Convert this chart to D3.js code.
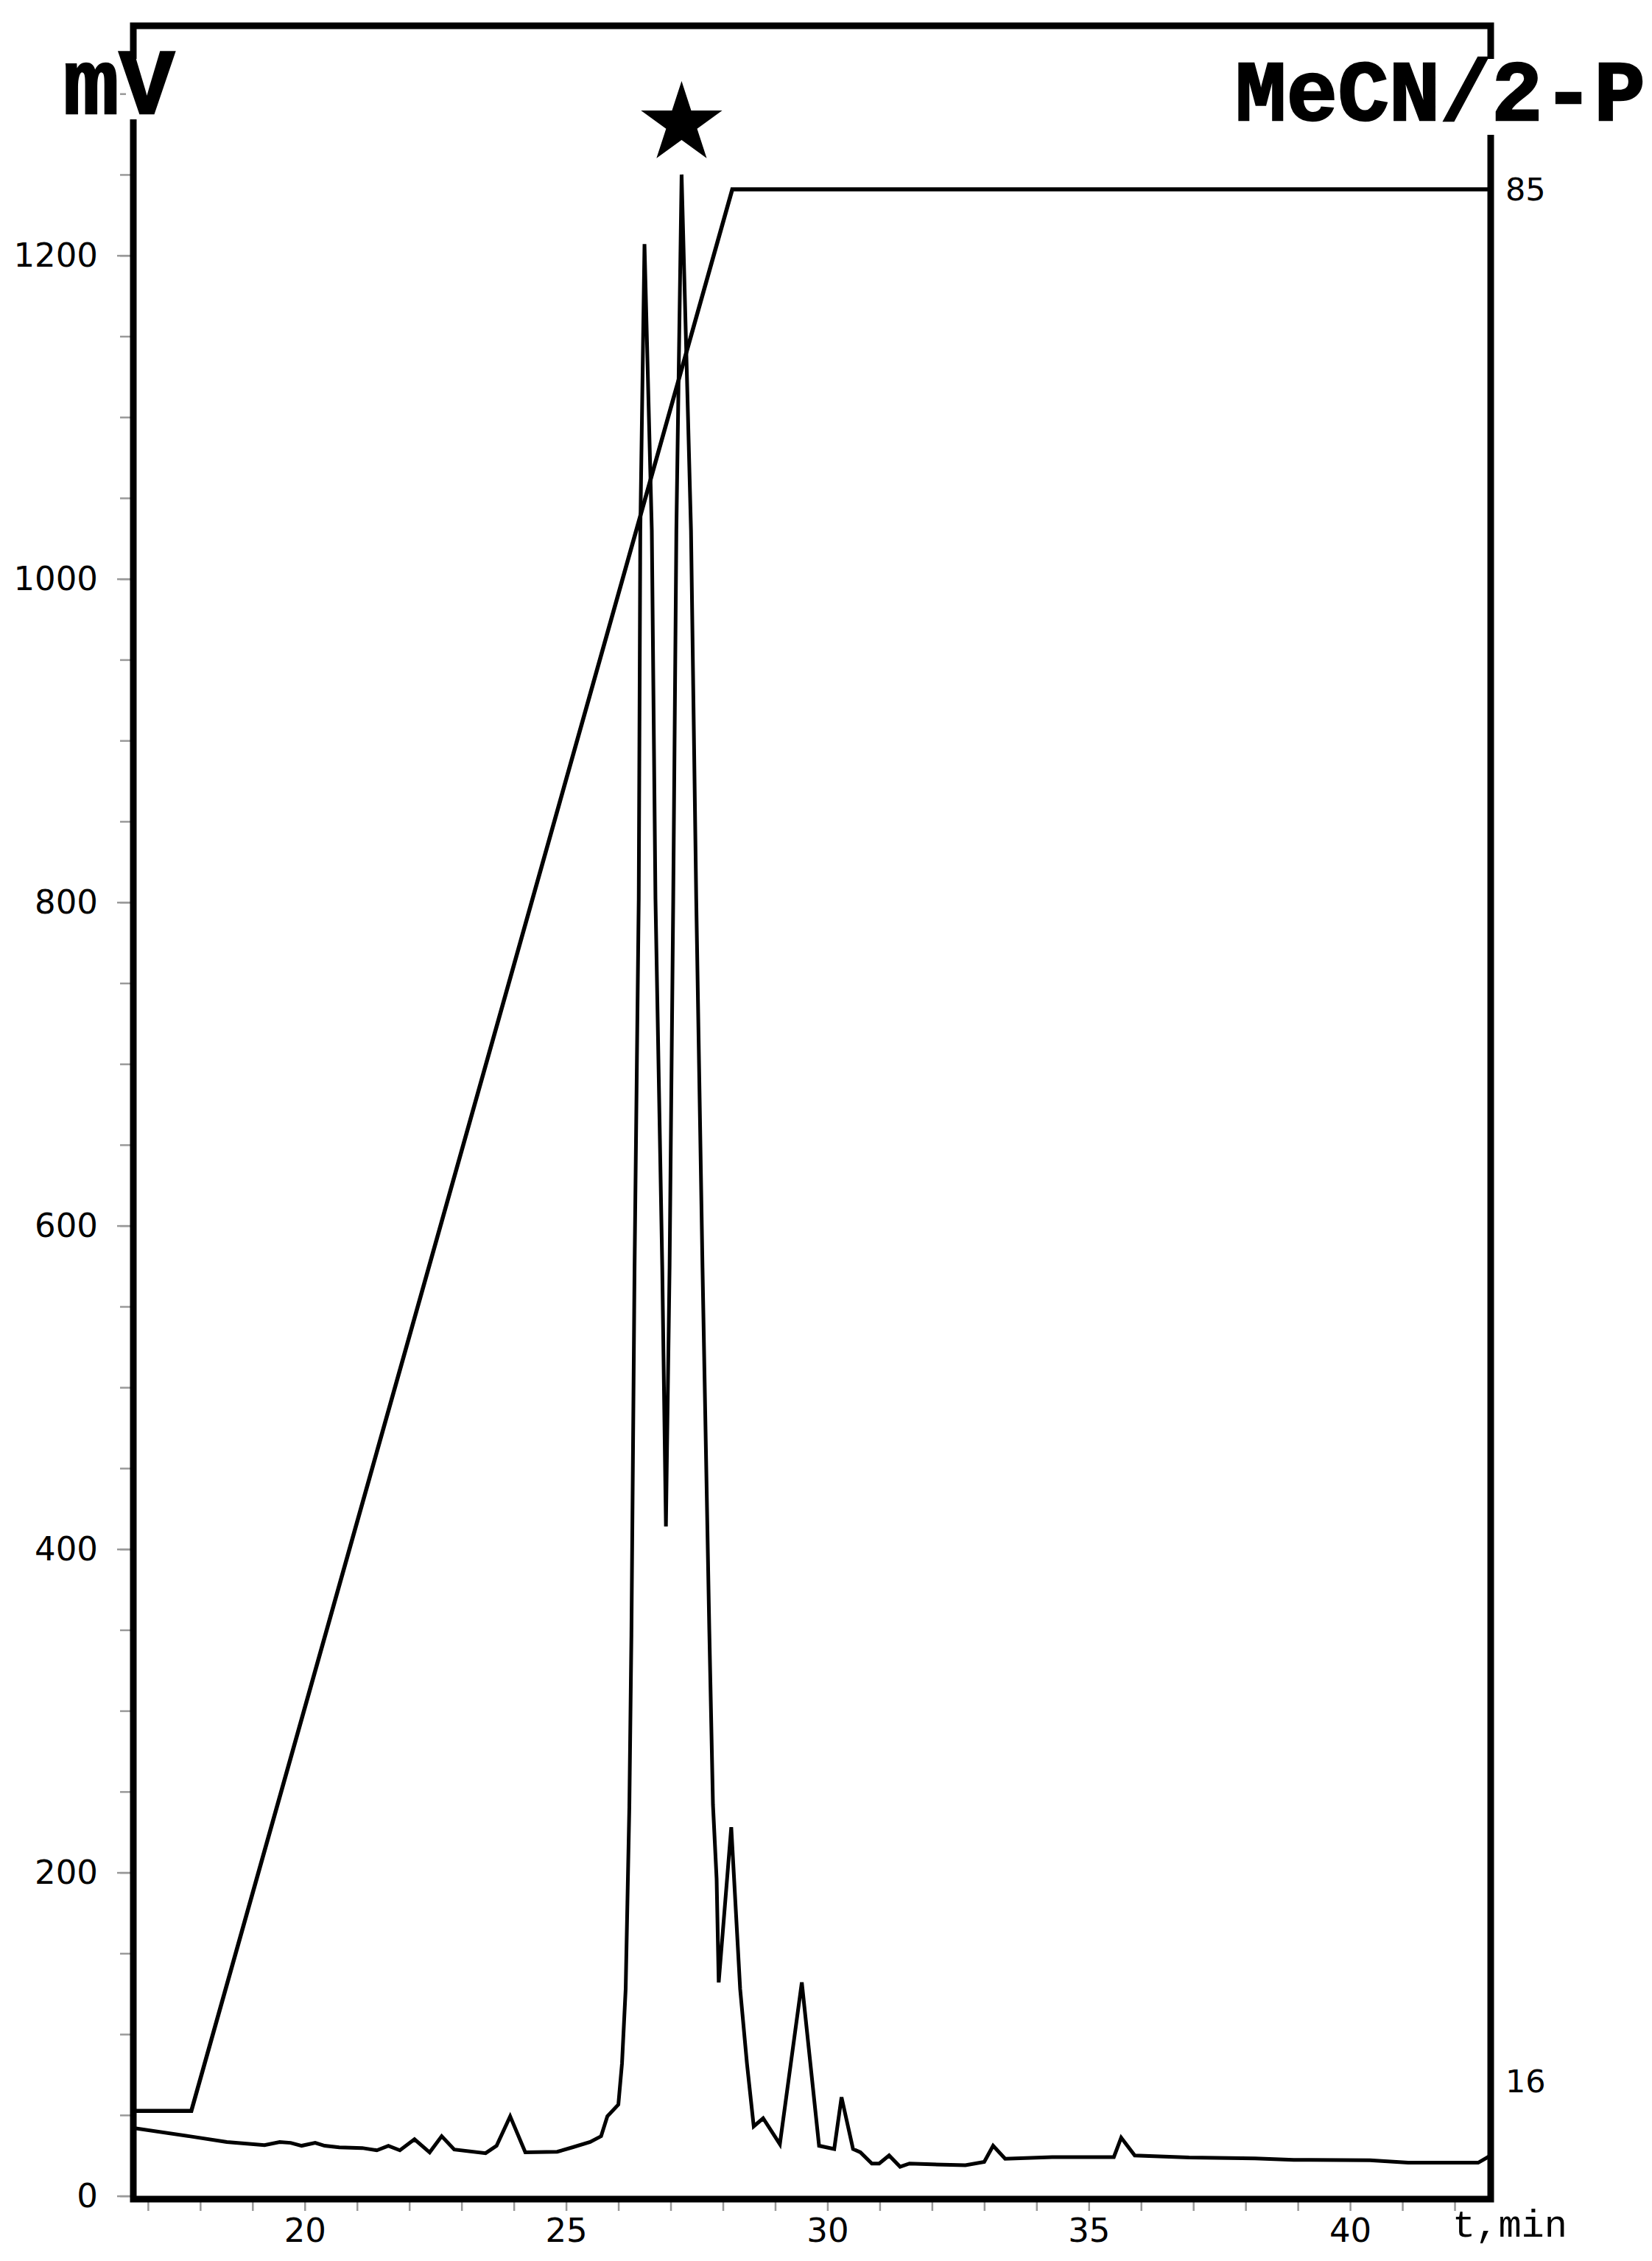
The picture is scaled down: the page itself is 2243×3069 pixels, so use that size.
<!DOCTYPE html>
<html>
<head>
<meta charset="utf-8">
<script src="https://cdn.jsdelivr.net/npm/d3@7"></script>
<style>
  html, body { margin: 0; padding: 0; background: #fff; }
  svg { display: block; }
</style>
</head>
<body>
<svg id="chart" width="2243" height="3069"></svg>
<script>
// chromatogram trace (time in min, signal in mV)
const timeMin = [
  16.72, 17.79, 18.51, 19.23, 19.52, 19.73, 19.94, 20.20, 20.38, 20.66,
  21.10, 21.38, 21.60, 21.82, 22.10, 22.39, 22.62, 22.86, 23.46, 23.67,
  23.93, 24.22, 24.83, 25.12, 25.46, 25.67, 25.79, 26.00, 26.07, 26.14,
  26.21, 26.25, 26.31, 26.39, 26.42, 26.50, 26.64, 26.71, 26.84, 26.91,
  26.98, 27.05, 27.11, 27.21, 27.39, 27.49, 27.61, 27.74, 27.81, 27.88,
  27.92, 28.16, 28.33, 28.46, 28.59, 28.77, 29.09, 29.51, 29.84, 30.13,
  30.27, 30.49, 30.63, 30.85, 30.99, 31.18, 31.39, 31.57, 32.00, 32.64,
  33.00, 33.17, 33.40, 34.30, 35.23, 35.48, 35.62, 35.88, 36.92, 38.18,
  38.92, 40.38, 41.11, 42.45, 42.69
]
const signalMv = [
  42, 36.9, 33.3, 31.4, 33.3, 32.8, 31.0, 32.8, 31.0, 30.0,
  29.6, 28.2, 31.0, 28.2, 35.0, 26.9, 36.9, 28.7, 26.4, 31.0,
  49.2, 26.9, 27.3, 30.0, 33.3, 36.9, 49.2, 56.5, 82, 128,
  240, 347, 574, 802, 1030, 1207, 1030, 802, 574, 414,
  574, 802, 1030, 1250, 1030, 802, 574, 350, 242, 196,
  132, 228, 128, 82, 43, 48, 32, 132, 31, 29,
  61, 29, 27, 20, 20, 25, 18, 20, 19.5, 19,
  21, 31, 23, 24, 24, 24, 36, 25, 23.7, 23.2,
  22.3, 22, 20.5, 20.5, 25
]

// MeCN / 2-propanol gradient (%)
const gradTime = [16.72, 17.83, 28.18, 42.69]
const gradPct = [16, 16, 85, 85]

const xLabelTicks = [20, 25, 30, 35, 40]
const yLabelTicks = [0, 200, 400, 600, 800, 1000, 1200]
const rightLabelTicks = [85, 16]
const starPeak = { t: 27.21, mv: 1250 }

const svg = d3.select('#chart')
const frame = { left: 181, right: 2024, top: 35, bottom: 2985 }

const x = d3.scaleLinear().domain([16.72, 42.69]).range([frame.left, frame.right])
const y = d3.scaleLinear().domain([-2, 1342]).range([frame.bottom, frame.top])
const yR = d3.scaleLinear().domain([12.83, 90.87]).range([frame.bottom, frame.top])

svg.append('rect').attr('width', 2243).attr('height', 3069).attr('fill', '#fff')

svg.append('clipPath').attr('id', 'plot-clip')
  .append('rect')
  .attr('x', frame.left).attr('y', frame.top)
  .attr('width', frame.right - frame.left)
  .attr('height', frame.bottom - frame.top)

const plot = svg.append('g').attr('clip-path', 'url(#plot-clip)')

const trace = d3.line()
  .x((d, i) => x(timeMin[i]))
  .y(d => y(d))

plot.append('path')
  .attr('d', trace(signalMv))
  .attr('fill', 'none')
  .attr('stroke', '#000')
  .attr('stroke-width', 5)

const gradient = d3.line()
  .x((d, i) => x(gradTime[i]))
  .y(d => yR(d))

plot.append('path')
  .attr('d', gradient(gradPct))
  .attr('fill', 'none')
  .attr('stroke', '#000')
  .attr('stroke-width', 5.5)

// axes: ticks only, the frame is drawn separately
const minorY = d3.range(0, 1341, 50)
const axisLeftMinor = d3.axisLeft(y).tickValues(minorY).tickSize(14).tickFormat('')
const axisLeftMajor = d3.axisLeft(y).tickValues(yLabelTicks).tickSize(18).tickPadding(26)
  .tickFormat(d3.format('d'))

const gYMinor = svg.append('g').attr('transform', 'translate(' + (frame.left - 4) + ',0)').call(axisLeftMinor)
const gY = svg.append('g').attr('transform', 'translate(' + (frame.left - 4) + ',0)').call(axisLeftMajor)

const xTicks = d3.range(17, 43, 1)
const axisBottom = d3.axisBottom(x)
  .tickValues(xTicks)
  .tickSize(12)
  .tickPadding(10)
  .tickFormat(d => xLabelTicks.includes(d) ? d : '')

const gX = svg.append('g').attr('transform', 'translate(0,' + (frame.bottom + 4) + ')').call(axisBottom)

;[gYMinor, gY, gX].forEach(g => {
  g.select('.domain').remove()
  g.selectAll('.tick line').attr('stroke', '#999').attr('stroke-width', 2.5)
  g.selectAll('.tick text')
    .attr('fill', '#000')
    .style('font-family', '"DejaVu Sans", sans-serif')
    .style('font-size', '45px')
})

// right gradient axis labels
svg.append('g').selectAll('text')
  .data(rightLabelTicks)
  .enter().append('text')
    .attr('x', frame.right + 20)
    .attr('y', d => yR(d) + (d === 16 ? -41 : 0))
    .attr('dy', '0.36em')
    .style('font-family', '"DejaVu Sans", sans-serif')
    .style('font-size', '43px')
    .text(d => d)

// frame
svg.append('rect')
  .attr('x', frame.left).attr('y', frame.top)
  .attr('width', frame.right - frame.left)
  .attr('height', frame.bottom - frame.top)
  .attr('fill', 'none')
  .attr('stroke', '#000')
  .attr('stroke-width', 9)

// axis titles with white gaps in the frame
svg.append('rect').attr('x', frame.left - 10).attr('y', 80).attr('width', 20).attr('height', 82).attr('fill', '#fff')
svg.append('rect').attr('x', frame.right - 10).attr('y', 80).attr('width', 20).attr('height', 103).attr('fill', '#fff')

const titleStyle = sel => sel
  .style('font-family', '"Liberation Mono", monospace')
  .style('font-weight', 'bold')
  .attr('stroke', '#000')
  .attr('stroke-width', 2.5)

svg.append('text')
  .attr('x', 86).attr('y', 154)
  .style('font-size', '126px')
  .call(titleStyle)
  .text('mV')

svg.append('text')
  .attr('x', 1677).attr('y', 163)
  .style('font-size', '116px')
  .call(titleStyle)
  .text('MeCN/2-P')

svg.append('text')
  .attr('x', 1972).attr('y', 3036)
  .style('font-family', '"Liberation Mono", monospace')
  .style('font-size', '52px')
  .text('t,min')

// star over the main peak
svg.append('path')
  .attr('d', d3.symbol(d3.symbolStar).size(3776)())
  .attr('transform', 'translate(' + x(starPeak.t) + ',' + (y(starPeak.mv) - 69) + ')')
  .attr('fill', '#000')
</script>
</body>
</html>
